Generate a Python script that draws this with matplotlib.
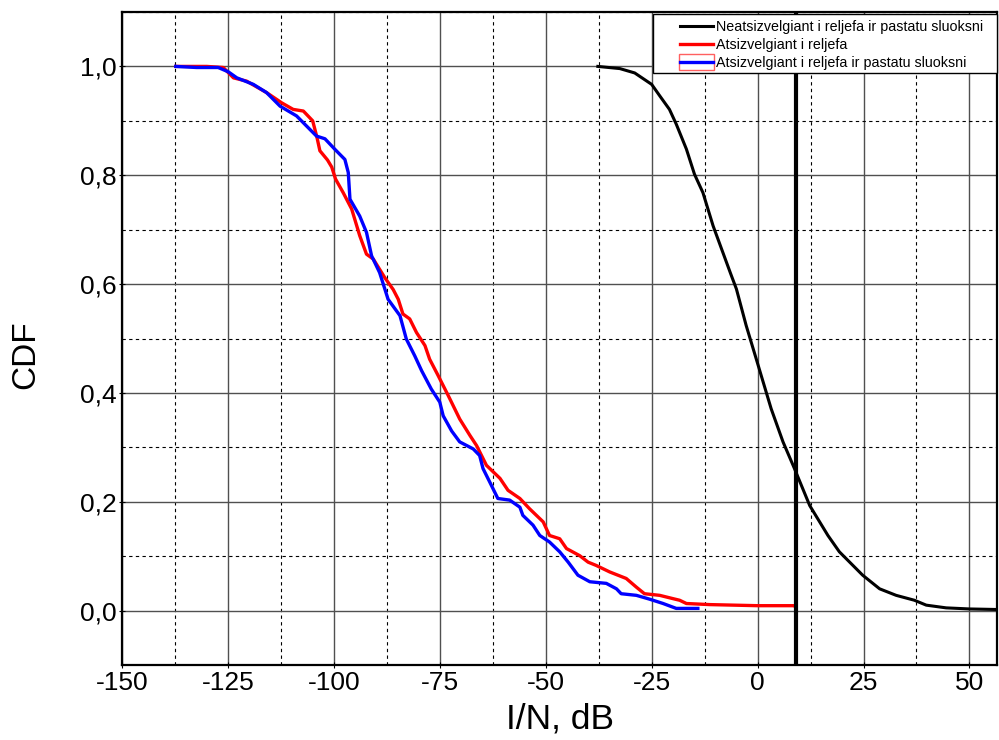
import numpy as np
import matplotlib
matplotlib.use("Agg")
import matplotlib.pyplot as plt
from matplotlib.lines import Line2D
from matplotlib.patches import Rectangle
from matplotlib.legend_handler import HandlerTuple, HandlerLine2D, HandlerPatch
from matplotlib.ticker import MultipleLocator, FuncFormatter

plt.rcParams['font.family'] = ['Liberation Sans', 'DejaVu Sans']
plt.rcParams['axes.unicode_minus'] = False

# Neatsizvelgiant i reljefa ir pastatu sluoksni (black)
neat_x = [-37.7, -32.5, -29.0, -25.0, -23.1, -20.8, -19.2, -16.8, -14.9, -12.9,
          -10.5, -6.4, -5.0, -2.7, -0.3, 3.2, 6.0, 8.7, 12.3, 16.6,
          19.3, 24.8, 28.8, 32.7, 37.0, 39.8, 44.5, 50.0, 56.5]
neat_y = [1.0, 0.996, 0.988, 0.967, 0.946, 0.921, 0.894, 0.848, 0.802, 0.768,
          0.707, 0.62, 0.591, 0.524, 0.462, 0.371, 0.310, 0.261, 0.193, 0.138,
          0.108, 0.065, 0.040, 0.028, 0.019, 0.010, 0.005, 0.003, 0.002]

# Atsizvelgiant i reljefa (red)
relj_x = [-137.3, -130.0, -126.1, -123.7, -120.6, -115.9, -112.3, -109.6, -107.2, -105.0,
          -104.0, -103.3, -101.5, -100.5, -99.6, -97.8, -95.8, -93.9, -92.3, -90.7,
          -88.0, -86.0, -84.8, -83.7, -82.1, -80.5, -78.5, -77.4, -75.4, -73.0,
          -70.3, -67.9, -66.3, -64.0, -60.8, -58.9, -56.1, -53.8, -50.6, -49.1,
          -46.7, -45.1, -42.0, -40.0, -38.1, -34.9, -31.0, -28.6, -26.7, -23.1,
          -20.0, -18.4, -16.8, -11.3, 0.0, 8.5, 9.0]
relj_y = [1.0, 1.0, 0.998, 0.979, 0.973, 0.952, 0.933, 0.921, 0.918, 0.900,
          0.870, 0.845, 0.828, 0.815, 0.793, 0.768, 0.738, 0.689, 0.655, 0.646,
          0.612, 0.590, 0.572, 0.545, 0.536, 0.511, 0.487, 0.462, 0.432, 0.395,
          0.352, 0.322, 0.303, 0.267, 0.243, 0.221, 0.206, 0.187, 0.163, 0.138,
          0.132, 0.114, 0.101, 0.089, 0.083, 0.071, 0.059, 0.043, 0.031, 0.028,
          0.022, 0.019, 0.013, 0.011, 0.009, 0.009, 0.007]

# Atsizvelgiant i reljefa ir pastatu sluoksni (blue)
past_x = [-137.3, -132.4, -127.3, -124.9, -122.9, -119.0, -115.9, -112.7, -108.8, -104.1,
          -102.1, -99.8, -97.4, -96.6, -96.2, -93.9, -92.3, -91.1, -89.2, -87.2,
          -84.4, -82.9, -80.9, -79.3, -77.0, -75.0, -74.2, -72.2, -70.3, -67.1,
          -65.6, -64.8, -63.2, -61.3, -58.5, -56.1, -55.4, -53.0, -51.4, -49.1,
          -46.7, -44.7, -42.4, -39.6, -35.7, -33.3, -32.2, -28.6, -25.5, -22.3,
          -19.2, -14.1]
past_y = [1.0, 0.998, 0.998, 0.99, 0.979, 0.967, 0.952, 0.927, 0.909, 0.872,
          0.867, 0.848, 0.829, 0.805, 0.756, 0.725, 0.695, 0.652, 0.621, 0.572,
          0.542, 0.499, 0.468, 0.441, 0.407, 0.383, 0.358, 0.330, 0.310, 0.297,
          0.285, 0.261, 0.236, 0.206, 0.203, 0.190, 0.175, 0.157, 0.138, 0.126,
          0.108, 0.089, 0.065, 0.053, 0.050, 0.040, 0.031, 0.028, 0.021, 0.013,
          0.004, 0.004]

threshold = 9.0
labels = ["Neatsizvelgiant i reljefa ir pastatu sluoksni",
          "Atsizvelgiant i reljefa",
          "Atsizvelgiant i reljefa ir pastatu sluoksni"]


def comma_fmt(v, pos):
    return f"{v:.1f}".replace(".", ",")


def box_patch(legend, orig_handle, xdescent, ydescent, width, height, fontsize):
    # red selection box drawn round the blue legend line
    return Rectangle((-xdescent - 1, -ydescent - 2), width + 2, height + 4)


def main():
    fig = plt.figure(figsize=(9.99, 7.40), dpi=100)
    ax = fig.add_axes([122 / 999, 75 / 740, 875 / 999, 653 / 740])

    ax.plot(neat_x, neat_y, color="black", lw=2.2)
    ax.plot(relj_x, relj_y, color="red", lw=2.4)
    ax.plot(past_x, past_y, color="blue", lw=2.4)
    ax.axvline(threshold, color="black", lw=3)

    ax.set_xlim(-150, 56.5)
    ax.set_ylim(-0.1, 1.1)
    ax.xaxis.set_major_locator(MultipleLocator(25))
    ax.xaxis.set_minor_locator(MultipleLocator(12.5))
    ax.yaxis.set_major_locator(MultipleLocator(0.2))
    ax.yaxis.set_minor_locator(MultipleLocator(0.1))
    ax.yaxis.set_major_formatter(FuncFormatter(comma_fmt))

    ax.grid(True, which="major", color="#505050", lw=1.0, ls="-")
    ax.grid(True, which="minor", color="black", lw=0.8, ls=(0, (3, 3)))
    ax.set_axisbelow(True)
    for s in ax.spines.values():
        s.set_linewidth(1.6)

    ax.tick_params(which="major", labelsize=19, length=4, direction="inout", pad=2)
    ax.tick_params(which="minor", length=0)

    ax.set_xlabel("I/N, dB", fontsize=25.5, labelpad=6)
    ax.set_ylabel("CDF", fontsize=24)
    ax.yaxis.set_label_coords(-0.092, 0.475)

    # legend frame, wider than the entries like in the original
    frame = Rectangle((0.607, 0.9066), 0.393, 0.0903, transform=ax.transAxes,
                      facecolor="white", edgecolor="black", lw=1.0,
                      zorder=4.9, clip_on=False)
    ax.add_patch(frame)

    h_neat = Line2D([], [], color="black", lw=2.2)
    h_relj = Line2D([], [], color="red", lw=2.4)
    h_past = (Rectangle((0, 0), 1, 1, facecolor="none", edgecolor="#ff6060", lw=1),
              Line2D([], [], color="blue", lw=2.4))
    leg = ax.legend([h_neat, h_relj, h_past], labels,
                    handler_map={tuple: HandlerTuple(ndivide=1, pad=0),
                                 Rectangle: HandlerPatch(patch_func=box_patch)},
                    loc="upper left", bbox_to_anchor=(0.6377, 0.9870),
                    fontsize=10.3, frameon=False,
                    handlelength=2.3, handletextpad=0.2, labelspacing=0.27,
                    borderpad=0, borderaxespad=0)
    leg.set_zorder(5)

    fig.savefig("out.png", dpi=100)


if __name__ == '__main__':
    main()
